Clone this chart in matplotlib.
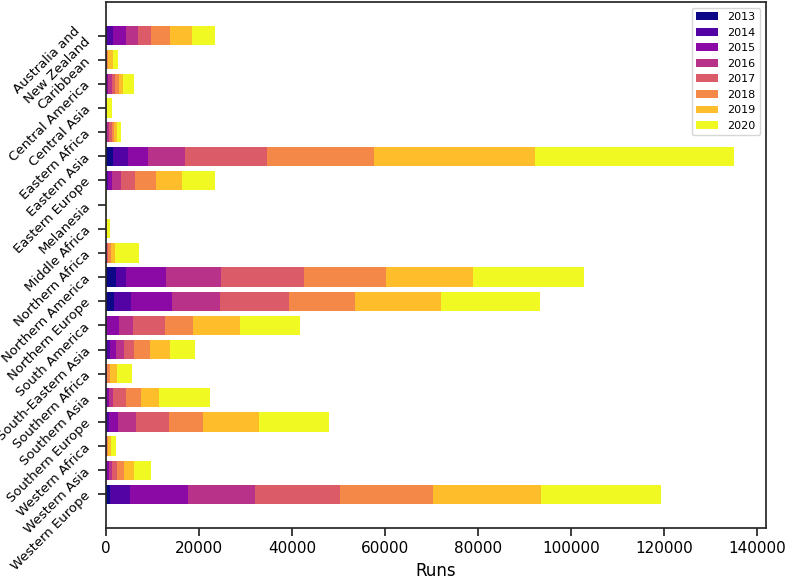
import numpy as np
import matplotlib
matplotlib.use('Agg')
import matplotlib.pyplot as plt

# regions, top to bottom
regions = ['Australia and\nNew Zealand', 'Caribbean', 'Central America', 'Central Asia',
	'Eastern Africa', 'Eastern Asia', 'Eastern Europe', 'Melanesia', 'Middle Africa',
	'Northern Africa', 'Northern America', 'Northern Europe', 'South America',
	'South-Eastern Asia', 'Southern Africa', 'Southern Asia', 'Southern Europe',
	'Western Africa', 'Western Asia', 'Western Europe']
years = ['2013', '2014', '2015', '2016', '2017', '2018', '2019', '2020']

runs_2013 = [300, 10, 20, 0, 30, 1440, 100, 0, 5, 10, 2180, 1720, 50, 200, 10, 50, 150, 10, 100, 790]
runs_2014 = [1200, 20, 50, 5, 60, 3350, 300, 0, 10, 20, 2140, 3720, 200, 600, 20, 200, 600, 20, 200, 4370]
runs_2015 = [2900, 30, 300, 10, 150, 4270, 900, 5, 20, 50, 8650, 8740, 2580, 1390, 40, 470, 1850, 30, 340, 12370]
runs_2016 = [2400, 60, 850, 20, 400, 7820, 1950, 10, 30, 100, 11720, 10230, 2980, 1580, 80, 710, 3750, 60, 580, 14510]
runs_2017 = [2800, 100, 710, 30, 580, 17670, 2950, 15, 40, 300, 17760, 14880, 6880, 2140, 150, 2870, 7230, 130, 1220, 18220]
runs_2018 = [4200, 300, 860, 50, 570, 23150, 4650, 20, 60, 600, 17750, 14310, 5950, 3540, 560, 3150, 7200, 250, 1500, 20000]
runs_2019 = [4600, 910, 930, 80, 500, 34400, 5550, 30, 100, 850, 18700, 18400, 10230, 4370, 1430, 4010, 12190, 500, 2070, 23140]
runs_2020 = [5100, 1220, 2300, 1050, 930, 42900, 7000, 60, 650, 5230, 23900, 21200, 12930, 5290, 3220, 10900, 14880, 1250, 3580, 25800]

series = [runs_2013, runs_2014, runs_2015, runs_2016, runs_2017, runs_2018, runs_2019, runs_2020]

plt.rcParams['font.family'] = 'DejaVu Sans'
fig = plt.figure(figsize=(7.87, 5.80), dpi=100)
ax = fig.add_axes([0.1347, 0.0897, 0.8380, 0.9069])

colors = plt.cm.plasma(np.linspace(0, 1, len(years)))
y = np.arange(len(regions))
left = np.zeros(len(regions))
for yr, vals, col in zip(years, series, colors):
	vals = np.array(vals, dtype=float)
	ax.barh(y, vals, left=left, height=0.8, color=col, label=yr)
	left += vals

ax.set_yticks(y)
ax.set_yticklabels(regions, rotation=45, fontsize=9.5)
ax.invert_yaxis()
ax.set_xlabel('Runs', fontsize=12)
ax.tick_params(axis='x', labelsize=11)
ax.tick_params(direction='out', length=6, width=1.25, color='#262626')
for s in ax.spines.values():
	s.set_linewidth(1.25)
	s.set_color('#262626')

ax.legend(loc='upper right', fontsize=8)

fig.savefig('out.png', dpi=100)
